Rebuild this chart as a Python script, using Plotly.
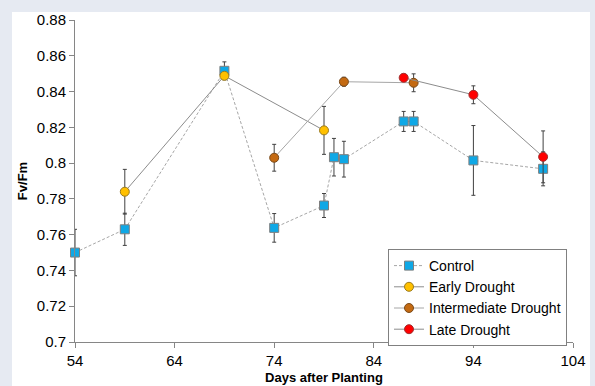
import plotly.graph_objects as go

# Data
ctrl_x = [54, 59, 69, 74, 79, 80, 81, 87, 88, 94, 101]
ctrl_y = [0.750, 0.763, 0.8516, 0.7638, 0.7763, 0.8033, 0.8022, 0.8233, 0.8233, 0.8015, 0.7968]
ctrl_e = [0.013, 0.009, 0.005, 0.008, 0.0067, 0.0105, 0.010, 0.0056, 0.0056, 0.0195, 0.0095]

early_x = [59, 69, 79]
early_y = [0.784, 0.8488, 0.8183]
early_e = [0.0125, 0.001, 0.0134]

inter_x = [74, 81, 88]
inter_y = [0.803, 0.8455, 0.8449]
inter_e = [0.0075, 0.0025, 0.005]

late_x = [87, 94, 101]
late_y = [0.8477, 0.8382, 0.8035]
late_e = [0.002, 0.005, 0.0145]

y_ticks = [0.7, 0.72, 0.74, 0.76, 0.78, 0.8, 0.82, 0.84, 0.86, 0.88]
y_text = ["0.7", "0.72", "0.74", "0.76", "0.78", "0.8", "0.82", "0.84", "0.86", "0.88"]
x_ticks = [54, 64, 74, 84, 94, 104]

FONT = "Liberation Sans, Arial, sans-serif"
ERR = dict(type="data", thickness=1, width=2, color="#404040")

fig = go.Figure()

def add(name, xs, ys, es, color, symbol, line, size=9, outline="#7f7f7f"):
    fig.add_trace(go.Scatter(
        x=xs, y=ys, name=name, mode="lines+markers",
        error_y=dict(array=es, **ERR),
        line=line,
        marker=dict(symbol=symbol, size=size, color=color, line=dict(color=outline, width=1)),
        cliponaxis=False,
    ))

add("Control", ctrl_x, ctrl_y, ctrl_e, "#0fa8e6", "square",
    dict(color="#a6a6a6", width=1, dash="3px,2px"))
add("Early Drought", early_x, early_y, early_e, "#ffc000", "circle",
    dict(color="#8c8c8c", width=1), outline="#9a7a20")
add("Intermediate Drought", inter_x, inter_y, inter_e, "#c46a12", "circle",
    dict(color="#a6a6a6", width=1), outline="#7a4a1a")
add("Late Drought", late_x, late_y, late_e, "#ff0000", "circle",
    dict(color="#8c8c8c", width=1), outline="#a03030")

L, R, T, B = 75, 22, 20, 44
W, H = 595, 386
pw = W - L - R
ph = H - T - B

fig.add_shape(type="rect", xref="paper", yref="paper",
              x0=(12 - L) / pw, x1=(590 - L) / pw,
              y0=-0.3, y1=(H - B - 12) / ph,
              fillcolor="white", line=dict(width=0), layer="below")

fig.update_layout(
    width=W, height=H,
    margin=dict(l=L, r=R, t=T, b=B, autoexpand=False),
    paper_bgcolor="#e6eaf2",
    plot_bgcolor="white",
    font=dict(family=FONT, size=15, color="#000000"),
    showlegend=True,
    legend=dict(
        x=(388 - L) / pw, y=(H - B - 249) / ph, xanchor="left", yanchor="top",
        bgcolor="white", bordercolor="#808080", borderwidth=1,
        font=dict(family=FONT, size=14, color="#000"),
        tracegroupgap=0, itemwidth=30,
    ),
    xaxis=dict(
        range=[54, 104], tickvals=x_ticks, ticks="outside", ticklen=5,
        tickcolor="#868686", showline=True, linecolor="#868686", linewidth=1,
        showgrid=False, zeroline=False,
        tickfont=dict(family=FONT, size=15),
        title=dict(text="<b>Days after Planting</b>", font=dict(family=FONT, size=13), standoff=4),
    ),
    yaxis=dict(
        range=[0.7, 0.88], tickvals=y_ticks, ticktext=y_text, ticks="outside", ticklen=5,
        tickcolor="#868686", showline=True, linecolor="#868686", linewidth=1,
        showgrid=False, zeroline=False,
        tickfont=dict(family=FONT, size=15),
        title=dict(text="<b>Fv/Fm</b>", font=dict(family=FONT, size=13), standoff=6),
    ),
)

fig.write_html("out.html", config={"displayModeBar": False},
               post_script="document.body.style.margin='0';document.body.style.overflow='hidden';")
